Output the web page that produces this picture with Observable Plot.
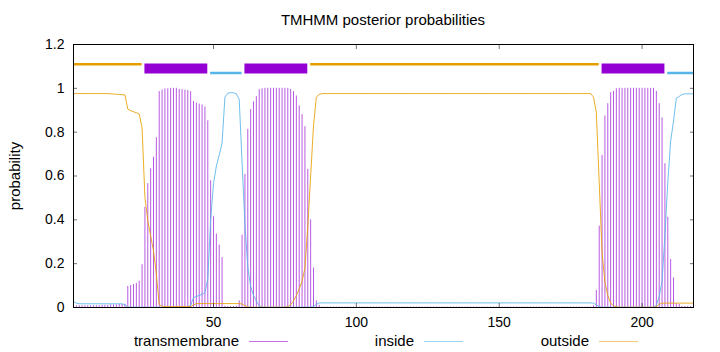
<!DOCTYPE html>
<html><head><meta charset="utf-8">
<script src="https://cdn.jsdelivr.net/npm/d3@7"></script>
<script src="https://cdn.jsdelivr.net/npm/@observablehq/plot@0.6"></script>
<style>
body{margin:0;background:#fff;font-family:"Liberation Sans",Arial,Helvetica,sans-serif;}
#wrap{position:relative;width:720px;height:352px;overflow:hidden;background:#fff}
.t{position:absolute;font-size:15px;line-height:15px;color:#000;white-space:nowrap}
.ln{position:absolute;height:0;border-top:1px solid}
</style></head><body>
<div id="wrap"></div>
<script>
// ---- data ----
const title = "TMHMM posterior probabilities";
const yLabel = "probability";
const seriesNames = ["transmembrane", "inside", "outside"];
const xTicks = [50, 100, 150, 200];
const yTicks = [0, 0.2, 0.4, 0.6, 0.8, 1, 1.2];
const seqLength = 218;

// posterior probability per residue (1..218)
const tm = [
0.008,0.008,0.008,0.008,0.008,0.008,0.008,0.008,0.008,0.008,
0.01,0.01,0.01,0.012,0.012,0.012,0.014,0.014,0.015,
0.096,0.10,0.105,0.11,0.12,0.195,0.457,0.565,0.633,0.686,
0.775,0.985,0.992,0.997,0.998,1.0,1.0,1.0,0.995,0.994,
0.992,0.99,0.985,0.94,0.933,0.928,0.924,0.915,0.852,0.578,
0.414,0.335,0.285,0.228,0.006,0.004,0.004,0.004,0.006,0.03,
0.33,0.607,0.813,0.903,0.938,0.962,0.994,0.998,1.0,1.0,
1.0,1.0,1.0,1.0,1.0,1.0,1.0,0.995,0.985,0.965,
0.92,0.88,0.825,0.63,0.40,0.18,0.03,0.01,0.002,0.002,
0.002,0.002,0.002,0.002,0.002,0.002,0.002,0.002,0.002,0.002,
0.002,0.002,0.002,0.002,0.002,0.002,0.002,0.002,0.002,0.002,
0.002,0.002,0.002,0.002,0.002,0.002,0.002,0.002,0.002,0.002,
0.002,0.002,0.002,0.002,0.002,0.002,0.002,0.002,0.002,0.002,
0.002,0.002,0.002,0.002,0.002,0.002,0.002,0.002,0.002,0.002,
0.002,0.002,0.002,0.002,0.002,0.002,0.002,0.002,0.002,0.002,
0.002,0.002,0.002,0.002,0.002,0.002,0.002,0.002,0.002,0.002,
0.002,0.002,0.002,0.002,0.002,0.002,0.002,0.002,0.002,0.002,
0.002,0.002,0.002,0.002,0.002,0.002,0.002,0.002,0.002,0.002,
0.002,0.002,0.002,
0.008,0.078,0.371,0.694,0.874,0.93,0.98,0.986,0.998,1.0,
1.0,1.0,1.0,1.0,1.0,1.0,1.0,1.0,1.0,1.0,1.0,1.0,
0.986,0.93,0.865,0.656,0.412,0.219,0.135,0.017,0.014,0.005,
0.005,0.005,0.005,0.005
];
const inside = [
0.027,0.02,0.017,0.017,0.017,0.017,0.017,0.017,0.017,0.017,
0.017,0.017,0.017,0.017,0.017,0.017,0.017,0.017,0.012,0.002,
0.001,0.001,0.001,0.001,0.001,0.001,0.001,0.001,0.001,0.001,
0.001,0.001,0.001,0.001,0.001,0.001,0.001,0.001,0.001,0.001,
0.003,0.01,0.045,0.05,0.055,0.06,0.068,0.13,0.40,0.565,
0.645,0.695,0.75,0.96,0.978,0.98,0.98,0.975,0.95,0.66,
0.38,0.185,0.095,0.055,0.03,0.006,0.001,0.001,0.001,0.001,
0.001,0.001,0.001,0.001,0.001,0.001,0.001,0.001,0.001,0.001,
0.001,0.001,0.001,0.001,0.004,0.015,0.021,0.021,0.021,0.021,
0.021,0.021,0.021,0.021,0.021,0.021,0.021,0.021,0.021,0.021,
0.021,0.021,0.021,0.021,0.021,0.021,0.021,0.021,0.021,0.021,
0.021,0.021,0.021,0.021,0.021,0.021,0.021,0.021,0.021,0.021,
0.021,0.021,0.021,0.021,0.021,0.021,0.021,0.021,0.021,0.021,
0.021,0.021,0.021,0.021,0.021,0.021,0.021,0.021,0.021,0.021,
0.021,0.021,0.021,0.021,0.021,0.021,0.021,0.021,0.021,0.021,
0.021,0.021,0.021,0.021,0.021,0.021,0.021,0.021,0.021,0.021,
0.021,0.021,0.021,0.021,0.021,0.021,0.021,0.021,0.021,0.021,
0.021,0.021,0.021,0.021,0.021,0.021,0.021,0.021,0.021,0.021,
0.021,0.021,
0.02,0.012,0.004,0.001,0.001,0.001,0.001,0.001,
0.001,0.001,0.001,0.001,0.001,0.001,0.001,0.001,0.001,0.001,
0.001,0.001,0.001,0.001,0.01,0.05,0.12,0.33,0.57,0.76,
0.85,0.955,0.963,0.972,0.975,0.975,0.975,0.975
];
const outside = [
0.976,0.976,0.976,0.976,0.976,0.976,0.976,0.976,0.976,0.976,
0.976,0.976,0.976,0.975,0.974,0.973,0.972,0.971,0.97,0.905,
0.898,0.893,0.889,0.883,0.82,0.502,0.396,0.327,0.259,0.152,
0.015,0.004,0.004,0.004,0.004,0.004,0.004,0.004,0.004,0.004,
0.004,0.004,0.012,0.018,0.018,0.018,0.018,0.018,0.018,0.018,
0.018,0.018,0.018,0.018,0.018,0.018,0.018,0.018,0.018,0.016,
0.008,0.003,0.001,0.001,0.001,0.001,0.001,0.001,0.001,0.001,
0.001,0.001,0.001,0.001,0.001,0.004,0.012,0.03,0.055,0.085,
0.12,0.18,0.37,0.6,0.83,0.96,0.972,0.976,0.976,0.976,
0.976,0.976,0.976,0.976,0.976,0.976,0.976,0.976,0.976,0.976,
0.976,0.976,0.976,0.976,0.976,0.976,0.976,0.976,0.976,0.976,
0.976,0.976,0.976,0.976,0.976,0.976,0.976,0.976,0.976,0.976,
0.976,0.976,0.976,0.976,0.976,0.976,0.976,0.976,0.976,0.976,
0.976,0.976,0.976,0.976,0.976,0.976,0.976,0.976,0.976,0.976,
0.976,0.976,0.976,0.976,0.976,0.976,0.976,0.976,0.976,0.976,
0.976,0.976,0.976,0.976,0.976,0.976,0.976,0.976,0.976,0.976,
0.976,0.976,0.976,0.976,0.976,0.976,0.976,0.976,0.976,0.976,
0.976,0.976,0.976,0.976,0.976,0.976,0.976,0.976,0.976,0.976,
0.976,0.976,
0.96,0.89,0.57,0.25,0.115,0.055,0.02,0.008,
0.003,0.001,0.001,0.001,0.001,0.001,0.001,0.001,0.001,0.001,
0.001,0.001,0.001,0.001,0.004,0.015,0.02,0.02,0.02,0.02,
0.02,0.02,0.02,0.02,0.02,0.02,0.02,0.02
];

// predicted topology segments
const segStart = [1, 26, 49, 61, 84, 186, 209];
const segEnd   = [25, 48, 60, 83, 185, 208, 218];
const segType  = ["outside","TMhelix","inside","TMhelix","outside","TMhelix","inside"];
const segLevel = {outside: 1.11, TMhelix: 1.09, inside: 1.07};

[tm, inside, outside].forEach((a, i) => { if (a.length !== seqLength) throw new Error(seriesNames[i] + " length " + a.length); });

// ---- build tables ----
const residues = d3.range(1, seqLength + 1);
const data = residues.map((r, i) => ({res: r, tm: tm[i], inside: inside[i], outside: outside[i]}));
const segs = segStart.map((s, i) => ({start: s, end: segEnd[i], type: segType[i], level: segLevel[segType[i]]}));

const C_TM = "#9400d3", C_IN = "#56b4e9", C_OUT = "#e69f00";
const font = '"Liberation Sans", Arial, Helvetica, sans-serif';

const chart = Plot.plot({
  width: 720, height: 352,
  marginLeft: 73, marginRight: 27, marginTop: 44, marginBottom: 45,
  style: {fontFamily: font, fontSize: "14px", background: "transparent", color: "#000", overflow: "visible"},
  x: {domain: [1, seqLength]},
  y: {domain: [0, 1.2]},
  marks: [
    Plot.ruleX(data, {x: "res", y1: 0, y2: "tm", stroke: C_TM, strokeOpacity: 0.65, strokeWidth: 1}),
    Plot.line(data, {x: "res", y: "inside", stroke: C_IN, strokeWidth: 1, strokeOpacity: 0.85}),
    Plot.line(data, {x: "res", y: "outside", stroke: C_OUT, strokeWidth: 1, strokeOpacity: 0.85}),
    Plot.ruleY(segs.filter(d => d.type === "outside"), {y: "level", x1: "start", x2: "end", stroke: C_OUT, strokeWidth: 2.5}),
    Plot.ruleY(segs.filter(d => d.type === "inside"), {y: "level", x1: "start", x2: "end", stroke: C_IN, strokeWidth: 2.5}),
    Plot.ruleY(segs.filter(d => d.type === "TMhelix"), {y: "level", x1: "start", x2: "end", stroke: C_TM, strokeWidth: 10}),
    Plot.frame({stroke: "#000", strokeWidth: 1}),
    // inward ticks
    Plot.axisX(xTicks, {anchor: "bottom", tickSize: 4, dy: -4, tickFormat: () => "", label: null, stroke: "#000", strokeOpacity: 0.55}),
    Plot.axisX(xTicks, {anchor: "top", tickSize: 4, dy: 4, tickFormat: () => "", label: null, stroke: "#000", strokeOpacity: 0.55}),
    Plot.axisY(yTicks, {anchor: "left", tickSize: 4, dx: 4, tickFormat: () => "", label: null, stroke: "#000", strokeOpacity: 0.55}),
    Plot.axisY(yTicks, {anchor: "right", tickSize: 4, dx: -4, tickFormat: () => "", label: null, stroke: "#000", strokeOpacity: 0.55}),
    // tick labels
    Plot.axisX(xTicks, {anchor: "bottom", tickSize: 0, tickPadding: 10, label: null, fontSize: 14, tickFormat: d => String(d)}),
    Plot.axisY(yTicks, {anchor: "left", tickSize: 0, tickPadding: 9, label: null, fontSize: 14, tickFormat: d => String(d)})
  ]
});

const wrap = document.getElementById("wrap");
chart.style.position = "absolute";
chart.style.left = "0px";
chart.style.top = "0px";
wrap.appendChild(chart);

function addText(txt, css) {
  const d = document.createElement("div");
  d.className = "t";
  d.textContent = txt;
  Object.assign(d.style, css);
  wrap.appendChild(d);
  return d;
}
function addLine(x1, x2, y, color) {
  const d = document.createElement("div");
  d.className = "ln";
  Object.assign(d.style, {left: x1 + "px", width: (x2 - x1) + "px", top: y + "px", borderTopColor: color});
  wrap.appendChild(d);
}

addText(title, {left: "73px", width: "620px", textAlign: "center", top: "12px"});
addText(yLabel, {left: "14px", top: "176px", transform: "translate(-50%,-50%) rotate(-90deg)"});

const legendTextRight = [239, 414, 589];
const legendColors = ["rgba(148,0,211,0.55)", "rgba(86,180,233,0.6)", "rgba(230,159,0,0.55)"];
seriesNames.forEach((name, i) => {
  addText(name, {left: (legendTextRight[i] - 200) + "px", width: "200px", textAlign: "right", top: "333px"});
  addLine(legendTextRight[i] + 10, legendTextRight[i] + 49, 341, legendColors[i]);
});
</script>
</body></html>
